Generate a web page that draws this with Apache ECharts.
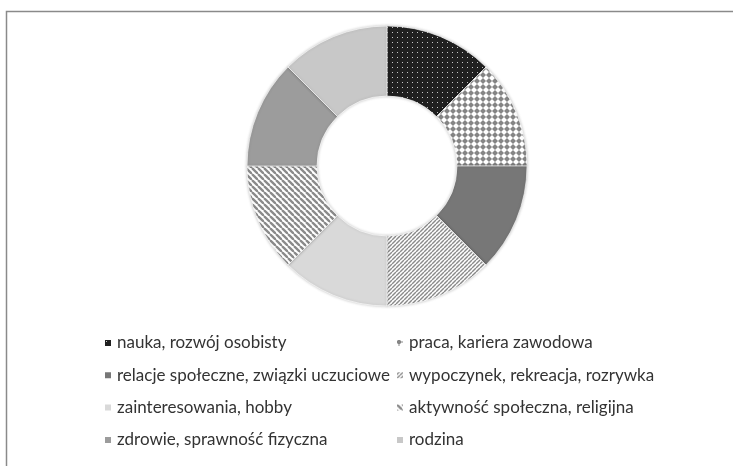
<!DOCTYPE html>
<html>
<head>
<meta charset="utf-8">
<script src="https://cdn.jsdelivr.net/npm/echarts@6/dist/echarts.min.js"></script>
<style>
html,body{margin:0;padding:0;background:#fff;}
#chart{width:733px;height:466px;}
</style>
</head>
<body>
<div id="chart"></div>
<script>
const categories = [
  'nauka, rozwój osobisty',
  'praca, kariera zawodowa',
  'relacje społeczne, związki uczuciowe',
  'wypoczynek, rekreacja, rozrywka',
  'zainteresowania, hobby',
  'aktywność społeczna, religijna',
  'zdrowie, sprawność fizyczna',
  'rodzina'
];
const values = [12.5, 12.5, 12.5, 12.5, 12.5, 12.5, 12.5, 12.5];

function tile(size, draw) {
  const c = document.createElement('canvas');
  c.width = size; c.height = size;
  const ctx = c.getContext('2d');
  draw(ctx, size);
  return { image: c, repeat: 'repeat' };
}
const dotFill = tile(5, (ctx, s) => {
  ctx.fillStyle = '#202020'; ctx.fillRect(0, 0, s, s);
  ctx.fillStyle = '#c8c8c8'; ctx.fillRect(2, 2, 1, 1);
});
const diamondFill = tile(6, (ctx, s) => {
  ctx.fillStyle = '#ffffff'; ctx.fillRect(0, 0, s, s);
  ctx.fillStyle = '#858585';
  ctx.beginPath();
  ctx.moveTo(3, 0); ctx.lineTo(6, 3); ctx.lineTo(3, 6); ctx.lineTo(0, 3);
  ctx.closePath(); ctx.fill();
});
const thinDiagFill = tile(4, (ctx, s) => {
  ctx.fillStyle = '#ffffff'; ctx.fillRect(0, 0, s, s);
  ctx.strokeStyle = '#8a8a8a'; ctx.lineWidth = 1.4;
  for (const k of [-4, 0, 4]) {
    ctx.beginPath(); ctx.moveTo(k, s); ctx.lineTo(k + s, 0); ctx.stroke();
  }
});
const wideDiagFill = tile(6, (ctx, s) => {
  ctx.fillStyle = '#ffffff'; ctx.fillRect(0, 0, s, s);
  ctx.strokeStyle = '#8a8a8a'; ctx.lineWidth = 2.3;
  for (const k of [-6, 0, 6]) {
    ctx.beginPath(); ctx.moveTo(k, 0); ctx.lineTo(k + s, s); ctx.stroke();
  }
});
const fills = [dotFill, diamondFill, '#777777', thinDiagFill, '#d9d9d9', wideDiagFill, '#9c9c9c', '#c8c8c8'];

const chart = echarts.init(document.getElementById('chart'));
const legendText = { fontSize: 17, lineHeight: 17, fontFamily: 'Lato, "Liberation Sans", sans-serif', color: '#333333' };
chart.setOption({
  animation: false,
  backgroundColor: '#ffffff',
  graphic: [{
    type: 'rect', silent: true,
    shape: { x: 6.5, y: 11.5, width: 800, height: 600 },
    style: { fill: 'none', stroke: '#8a8a8a', lineWidth: 1.5 }
  }],
  legend: [
    {
      data: categories.filter((_, i) => i % 2 === 0),
      orient: 'vertical', left: 103, top: 334.5, padding: 0,
      itemWidth: 8, itemHeight: 8, itemGap: 15.3, icon: 'rect',
      textStyle: legendText
    },
    {
      data: categories.filter((_, i) => i % 2 === 1),
      orient: 'vertical', left: 395, top: 334.5, padding: 0,
      itemWidth: 8, itemHeight: 8, itemGap: 15.3, icon: 'rect',
      textStyle: legendText
    }
  ],
  series: [{
    type: 'pie',
    center: [387, 166],
    radius: [70, 140],
    startAngle: 90,
    clockwise: true,
    label: { show: false },
    labelLine: { show: false },
    emphasis: { disabled: true },
    itemStyle: { borderColor: '#ffffff', borderWidth: 0.6, shadowBlur: 3, shadowColor: 'rgba(0,0,0,0.25)' },
    data: categories.map((name, i) => ({ name, value: values[i], itemStyle: { color: fills[i] } }))
  }]
});
</script>
</body>
</html>
